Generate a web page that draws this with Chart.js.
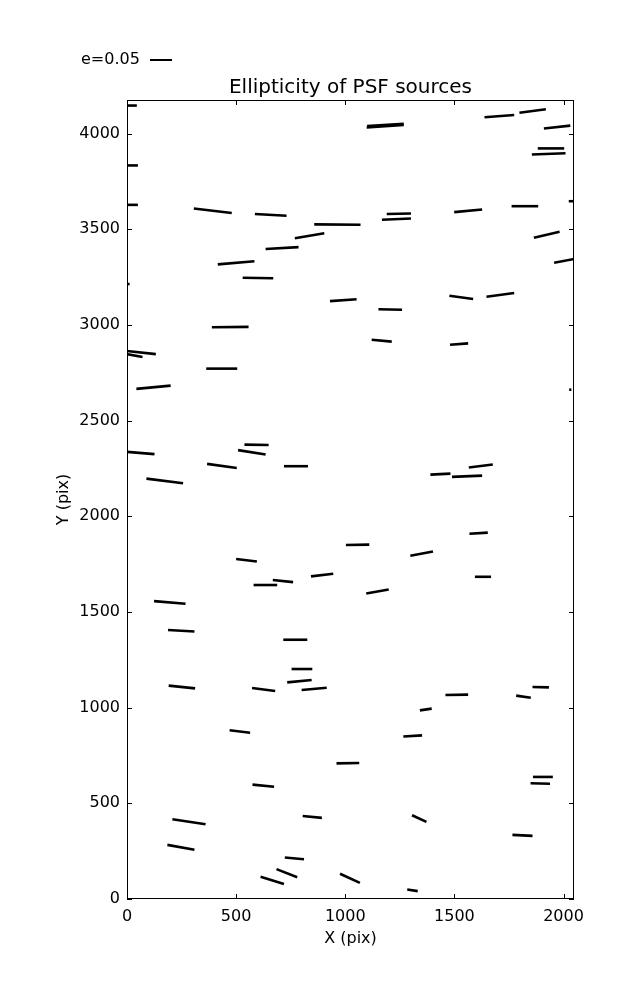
<!DOCTYPE html>
<html>
<head>
<meta charset="utf-8">
<title>Ellipticity of PSF sources</title>
<script src="https://cdn.jsdelivr.net/npm/chart.js@4"></script>
<style>
  body { margin: 0; background: #fff; }
  canvas { display: block; }
</style>
</head>
<body>
<canvas id="whiskers" width="637" height="1000"></canvas>
<script>
// whisker segments (data units, pix)
let xStart = [-30, -30, -30, -40, 306, 586, 858, 769, 635, 416, 530, 930, 1098, 1100, 1638, 1798, 1910, 1882, 1855, 2024,
    1190, 1168, 1499, 1762, 1864, 1957, 1477, 1647, 389, -30, -30, 363, 43, 2026, -30, 89, 367, 538, 509, 719,
    1152, 1121, 1480, 1566, 1390, 1489, 500, 580, 668, 843, 1003, 124, 188, 716, 754, 734, 800, 191, 573, 1569,
    1298, 1594, 1096, 1459, 1858, 1783, 470, 575, 208, 185, 805, 723, 685, 612, 960, 976, 1342, 1266, 1306, 1284,
    1860, 1849, 1766]
let yStart = [4147, 3834, 3628, 3214, 3609, 3580, 3526, 3453, 3397, 3317, 3247, 3125, 4032, 4040, 4086, 4109, 4027, 3923, 3891, 3647,
    3580, 3550, 3590, 3621, 3456, 3325, 3153, 3148, 2988, 2868, 2854, 2772, 2666, 2662, 2340, 2197, 2274, 2375, 2346, 2262,
    3082, 2923, 2897, 2255, 2218, 2206, 1777, 1641, 1667, 1686, 1850, 1557, 1406, 1355, 1202, 1132, 1092, 1115, 1103, 1909,
    1794, 1684, 1597, 1066, 1108, 1063, 882, 598, 417, 283, 434, 217, 156, 116, 709, 132, 986, 849, 438, 50,
    638, 605, 335]
let xEnd = [45, 50, 50, 12, 480, 731, 1070, 904, 786, 584, 670, 1052, 1268, 1268, 1774, 1919, 2031, 2003, 2009, 2090,
    1301, 1301, 1627, 1884, 1982, 2070, 1586, 1774, 557, 132, 71, 505, 200, 2036, 126, 257, 503, 649, 635, 829,
    1260, 1213, 1563, 1676, 1482, 1627, 595, 688, 761, 945, 1110, 268, 309, 826, 849, 846, 915, 312, 679, 1653,
    1402, 1668, 1199, 1563, 1933, 1850, 564, 674, 360, 309, 893, 811, 780, 719, 1064, 1067, 1396, 1352, 1372, 1332,
    1951, 1938, 1858]
let yEnd = [4147, 3834, 3628, 3214, 3585, 3571, 3524, 3480, 3407, 3333, 3244, 3135, 4046, 4052, 4098, 4128, 4042, 3923, 3898, 3647,
    3583, 3557, 3604, 3621, 3487, 3350, 3136, 3167, 2990, 2848, 2833, 2772, 2683, 2662, 2325, 2173, 2253, 2373, 2323, 2262,
    3080, 2913, 2904, 2271, 2223, 2213, 1764, 1641, 1656, 1700, 1852, 1543, 1398, 1355, 1202, 1145, 1104, 1101, 1087, 1915,
    1816, 1684, 1618, 1068, 1106, 1052, 869, 587, 391, 257, 424, 208, 114, 79, 711, 84, 995, 855, 403, 41,
    638, 602, 330]

let xTicks = [0, 500, 1000, 1500, 2000]
let yTicks = [0, 500, 1000, 1500, 2000, 2500, 3000, 3500, 4000]
let xMax = 2048
let yMax = 4176

let font = "'DejaVu Sans', sans-serif"

let datasets = []
for (let i = 0; i < xStart.length; i++) {
    datasets.push({
        data: [{x: xStart[i], y: yStart[i]}, {x: xEnd[i], y: yEnd[i]}],
        showLine: true,
        borderColor: "#000",
        borderWidth: 2.6,
        borderCapStyle: "butt",
        pointRadius: 0,
        clip: 0
    })
}

// frame, inward ticks, title and the e=0.05 key
let decorations = {
    id: "decorations",
    afterDraw(chart) {
        let ctx = chart.ctx
        let a = chart.chartArea
        let xs = chart.scales.x
        let ys = chart.scales.y
        ctx.save()
        ctx.strokeStyle = "#000"
        ctx.lineWidth = 1
        ctx.beginPath()
        for (let v of xTicks) {
            let px = Math.round(xs.getPixelForValue(v)) + 0.5
            ctx.moveTo(px, a.bottom); ctx.lineTo(px, a.bottom - 5)
            ctx.moveTo(px, a.top); ctx.lineTo(px, a.top + 5)
        }
        for (let v of yTicks) {
            let py = Math.round(ys.getPixelForValue(v)) + 0.5
            ctx.moveTo(a.left, py); ctx.lineTo(a.left + 5, py)
            ctx.moveTo(a.right, py); ctx.lineTo(a.right - 5, py)
        }
        ctx.stroke()
        ctx.strokeRect(a.left + 0.5, a.top + 0.5, a.right - a.left - 1, a.bottom - a.top - 1)

        ctx.fillStyle = "#000"
        ctx.font = "20px " + font
        ctx.textAlign = "center"
        ctx.textBaseline = "alphabetic"
        ctx.fillText("Ellipticity of PSF sources", (a.left + a.right) / 2, 93)

        ctx.font = "16px " + font
        ctx.textAlign = "left"
        ctx.textBaseline = "middle"
        ctx.fillText("e=0.05", 81, 60)
        ctx.lineWidth = 2
        ctx.beginPath()
        ctx.moveTo(150, 60)
        ctx.lineTo(172, 60)
        ctx.stroke()
        ctx.restore()
    }
}

new Chart(document.getElementById("whiskers"), {
    type: "scatter",
    data: { datasets: datasets },
    options: {
        responsive: false,
        animation: false,
        layout: { padding: { top: 100, right: 63, left: 0, bottom: 0 } },
        plugins: { legend: { display: false }, tooltip: { enabled: false } },
        scales: {
            x: {
                type: "linear",
                min: 0,
                max: xMax,
                afterBuildTicks: (s) => { s.ticks = xTicks.map(v => ({value: v})) },
                afterFit: (s) => { s.height = 101 },
                grid: { display: false, drawTicks: false },
                border: { display: false },
                ticks: { color: "#000", padding: 8, font: { family: font, size: 16 }, maxRotation: 0, callback: (v) => String(v) },
                title: { display: true, text: "X (pix)", color: "#000", font: { family: font, size: 16 }, padding: { bottom: 52 } }
            },
            y: {
                type: "linear",
                min: 0,
                max: yMax,
                afterBuildTicks: (s) => { s.ticks = yTicks.map(v => ({value: v})) },
                afterFit: (s) => { s.width = 127 },
                grid: { display: false, drawTicks: false },
                border: { display: false },
                ticks: { color: "#000", padding: 7, font: { family: font, size: 16 }, callback: (v) => String(v) },
                title: { display: true, text: "Y (pix)", color: "#000", font: { family: font, size: 16 }, padding: { top: 54 } }
            }
        }
    },
    plugins: [decorations]
})
</script>
</body>
</html>
